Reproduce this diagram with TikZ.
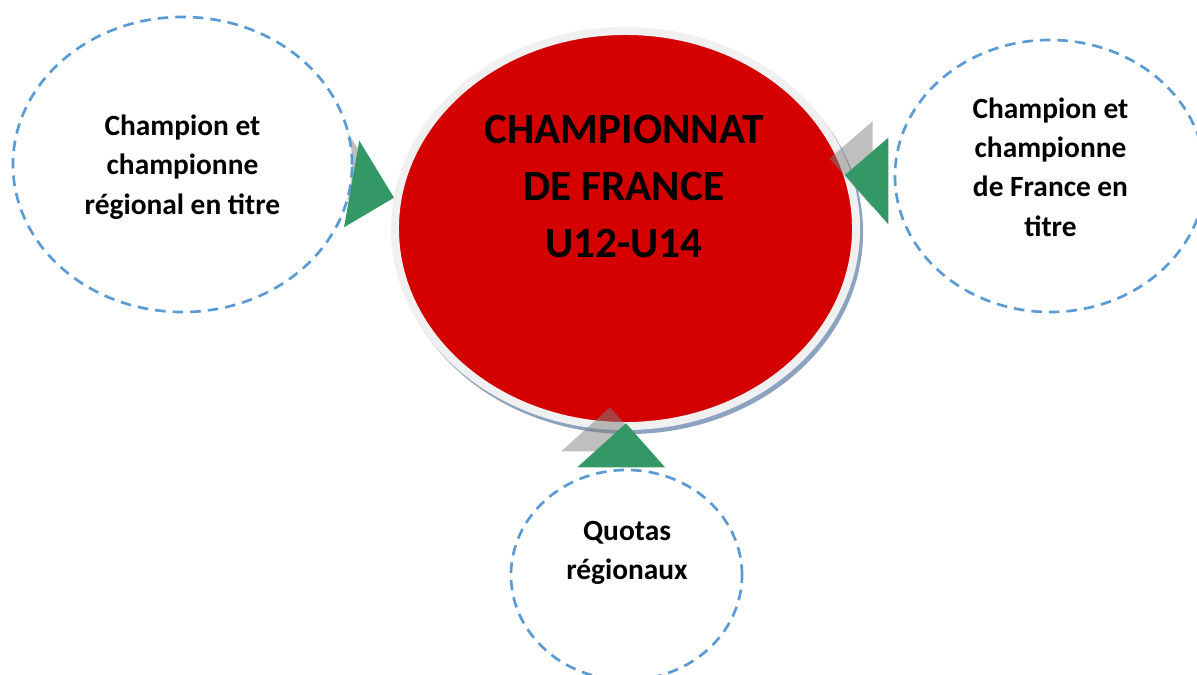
\documentclass[tikz,border=0pt]{standalone}
\usepackage{fontspec}
\setmainfont{Carlito}
\usetikzlibrary{shapes.geometric}
\definecolor{redfill}{RGB}{212,0,0}
\definecolor{ringgray}{RGB}{240,240,240}
\definecolor{shadowblue}{RGB}{140,162,190}
\definecolor{dashblue}{RGB}{91,155,213}
\definecolor{arrowgreen}{RGB}{52,152,102}
\definecolor{shadegray}{RGB}{128,128,128}
\begin{document}
\begin{tikzpicture}[x=0.025cm,y=-0.025cm,
  satellite/.style={ellipse, draw=dashblue, line width=1.9pt, dash pattern=on 7.5pt off 5pt, fill=white, inner sep=0pt},
  sattxt/.style={font=\bfseries\fontsize{20.9}{27.9}\selectfont, align=center, text=black, inner sep=0pt},
  hubtxt/.style={font=\bfseries\fontsize{30.7}{40.2}\selectfont, align=center, text=black, inner sep=0pt},
  pointer/.style={fill=arrowgreen},
  pshadow/.style={fill=shadegray, fill opacity=0.5}]
\useasboundingbox (0,0) rectangle (1197,675);
\clip (0,0) rectangle (1197,675);
% central hub
\node[ellipse, fill=shadowblue, inner sep=0pt, minimum width=11.725cm, minimum height=10.075cm] (hubshadow) at (628.5,232.5) {};
\node[ellipse, draw=ringgray, line width=5.7pt, fill=redfill, inner sep=0pt, minimum width=11.525cm, minimum height=9.875cm] (hub) at (625.5,228.5) {};
\node[hubtxt] (hubtext) at (624,186.5) {CHAMPIONNAT\\DE FRANCE\\U12-U14};
% pointer shadows
\fill[pshadow] (343.3,124.7) -- (378,181.7) -- (328,211.3) -- cycle;
\fill[pshadow] (872.7,121.2) -- (829.4,158.5) -- (872.7,207.8) -- cycle;
\fill[pshadow] (610,407.3) -- (561.3,451.3) -- (649,451.3) -- cycle;
% satellites
\node[satellite, minimum width=8.475cm, minimum height=7.375cm] (regional) at (182.5,164.5) {};
\node[satellite, minimum width=7.75cm, minimum height=6.8cm] (france) at (1050,176) {};
\node[satellite, minimum width=5.775cm, minimum height=5.25cm] (quotas) at (626.5,575) {};
\node[sattxt] (regionaltext) at (182.5,167) {Champion et\\championne\\régional en titre};
\node[sattxt] (francetext) at (1050.5,167) {Champion et\\championne\\de France en\\titre};
\node[sattxt] (quotastext) at (627,553) {Quotas\\régionaux};
% pointers
\fill[pointer] (359.3,140.7) -- (394,197.7) -- (344,227.3) -- cycle;
\fill[pointer] (888.3,137.7) -- (845,175) -- (888.3,224.3) -- cycle;
\fill[pointer] (626,423.3) -- (577.3,467.3) -- (665,467.3) -- cycle;
\end{tikzpicture}
\end{document}
